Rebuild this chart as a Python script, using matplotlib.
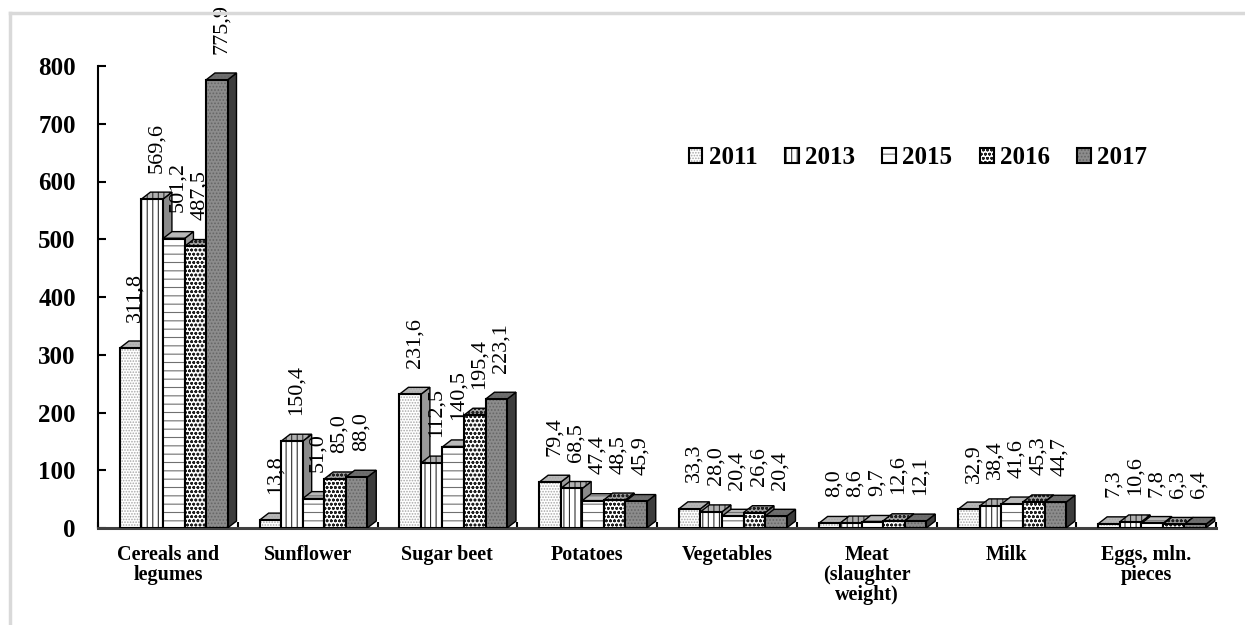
import numpy as np
import matplotlib
matplotlib.use("Agg")
import matplotlib.pyplot as plt
from matplotlib.patches import Polygon
from matplotlib.lines import Line2D
from matplotlib.legend_handler import HandlerTuple

plt.rcParams['font.family'] = ['Liberation Serif', 'DejaVu Serif']
plt.rcParams['hatch.linewidth'] = 0.8

categories = ["Cereals and\nlegumes", "Sunflower", "Sugar beet", "Potatoes",
              "Vegetables", "Meat\n(slaughter\nweight)", "Milk", "Eggs, mln.\npieces"]
years = ["2011", "2013", "2015", "2016", "2017"]
v2011 = [311.8, 13.8, 231.6, 79.4, 33.3, 8.0, 32.9, 7.3]
v2013 = [569.6, 150.4, 112.5, 68.5, 28.0, 8.6, 38.4, 10.6]
v2015 = [501.2, 51.0, 140.5, 47.4, 20.4, 9.7, 41.6, 7.8]
v2016 = [487.5, 85.0, 195.4, 48.5, 26.6, 12.6, 45.3, 6.3]
v2017 = [775.9, 88.0, 223.1, 45.9, 20.4, 12.1, 44.7, 6.4]
series = [v2011, v2013, v2015, v2016, v2017]

# look of each year: face, hatch colour, hatch, top face, side face
faces = ['white', 'white', 'white', 'white', '#8c8c8c']
hatch_cols = ['#a8a8a8', '#303030', '#707070', '#202020', '#666666']
hatches = ['......', '|||', '--', 'oooo', '.....']
tops = ['#b8b8b8', '#b0b0b0', '#b8b8b8', '#a0a0a0', '#6e6e6e']
sides = ['#9a9a9a', '#8a8a8a', '#9a9a9a', '#7a7a7a', '#3c3c3c']

fig = plt.figure(figsize=(12.45, 6.25), dpi=100)
ax = fig.add_axes([98/1245, 1-528/625, (1216-98)/1245, (528-66)/625])
ax.set_xlim(0, 8)
ax.set_ylim(0, 800)

w = 0.154        # bar width
start = 0.157    # gap before first bar
dx = 0.064       # depth in x
dy = 12.0        # depth in y (data units)

x0 = np.arange(len(categories))
legend_handles = []
for i, vals in enumerate(series):
    left = x0 + start + i * w
    z = 3 + i
    for xl, v in zip(left, vals):
        # side face
        ax.add_patch(Polygon([(xl + w, 0), (xl + w + dx, dy), (xl + w + dx, v + dy), (xl + w, v)],
                             closed=True, facecolor=sides[i], edgecolor='black', lw=1.0, zorder=z))
        # top face
        top = [(xl, v), (xl + dx, v + dy), (xl + w + dx, v + dy), (xl + w, v)]
        ax.add_patch(Polygon(top, closed=True, facecolor=tops[i], edgecolor=hatch_cols[i],
                             hatch=hatches[i], lw=0, zorder=z))
        ax.add_patch(Polygon(top, closed=True, facecolor='none', edgecolor='black', lw=1.0, zorder=z))
    fill = ax.bar(left, vals, width=w, align='edge', color=faces[i], edgecolor=hatch_cols[i],
                  hatch=hatches[i], linewidth=0, zorder=z)
    outline = ax.bar(left, vals, width=w, align='edge', color='none', edgecolor='black',
                     linewidth=1.5, zorder=z)
    legend_handles.append((fill[0], outline[0]))
    for xl, v in zip(left, vals):
        ax.annotate(f"{v:.1f}".replace('.', ','), (xl + w / 2 + dx / 2, v), xytext=(0, 19),
                    textcoords='offset points', rotation=90, ha='center', va='bottom',
                    fontsize=16, zorder=10, annotation_clip=False)

# axes styling
for s in ['top', 'right']:
    ax.spines[s].set_visible(False)
ax.spines['left'].set_linewidth(1.5)
ax.spines['bottom'].set_linewidth(2.2)
ax.spines['bottom'].set_color('#404040')
ax.set_yticks(np.arange(0, 801, 100))
ax.tick_params(axis='y', direction='in', length=6, width=1.5, labelsize=18, pad=16)
for t in ax.get_yticklabels():
    t.set_fontweight('bold')
ax.set_xticks(np.arange(0, 9))
ax.set_xticklabels([])
ax.tick_params(axis='x', which='major', direction='in', length=4, width=1.5)
ax.set_xticks(x0 + 0.5, minor=True)
ax.set_xticklabels(categories, minor=True, fontsize=14.5, fontweight='bold', linespacing=1.0)
ax.tick_params(axis='x', which='minor', length=0, pad=12)

fig.legend(legend_handles, years, loc='center', bbox_to_anchor=(918/1245, 1-158/625),
           ncol=5, frameon=False, handlelength=0.55, handleheight=0.55, handletextpad=0.25,
           columnspacing=1.1, prop={'size': 18, 'weight': 'bold'},
           handler_map={tuple: HandlerTuple(ndivide=1)})

# outer frame (left and top edges visible)
fig.add_artist(Line2D([10/1245, 10/1245], [0, 1-13/625], transform=fig.transFigure,
                      color='#d9d9d9', lw=2.5))
fig.add_artist(Line2D([10/1245, 1], [1-13/625, 1-13/625], transform=fig.transFigure,
                      color='#d9d9d9', lw=2.5))

fig.savefig('out.png', dpi=100)
